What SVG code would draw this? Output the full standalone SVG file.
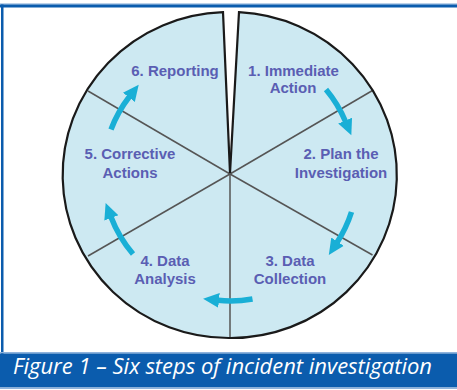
<svg xmlns="http://www.w3.org/2000/svg" width="457" height="390" viewBox="0 0 457 390">
<defs>
<style>
.lbl{font-family:"Liberation Sans",Arial,sans-serif;font-weight:bold;font-size:15px;fill:#5a5eb3;text-anchor:middle}
.div{stroke:#555;stroke-width:1.5;fill:none}
.rim{stroke:#1a1a1a;stroke-width:2.2;fill:none;stroke-linejoin:miter}
.arr{stroke:#19afd6;stroke-width:5.5;fill:none;marker-end:url(#ah)}
.cap{font-family:"Open Sans","Noto Sans",sans-serif;font-style:italic;font-size:21px;fill:#ffffff}
</style>
<marker id="ah" markerUnits="userSpaceOnUse" markerWidth="18" markerHeight="18" viewBox="0 0 18 18" refX="1" refY="9" orient="auto">
<path d="M0,1.5 L16,9 L0,16.5 Z" fill="#19afd6"/>
</marker>
</defs>
<rect x="0" y="0" width="457" height="390" fill="#ffffff"/>
<g id="frame">
<rect x="0" y="3.5" width="457" height="1" fill="#7aa6d6"/>
<rect x="0" y="4.5" width="457" height="3" fill="#0b5cad"/>
<rect x="1" y="4.5" width="2.5" height="350" fill="#0b5cad"/>
</g>
<g id="pie">
<path d="M230,173 L223,12.1 A166,163 0 0 0 230,338 Z" fill="#cde9f2"/>
<path d="M230,173 L239,12.2 A166,163 0 0 1 230,338 Z" fill="#cde9f2"/>
</g>
<g id="connectors">
<line class="div" x1="230" y1="174" x2="372.5" y2="90.5"/>
<line class="div" x1="230" y1="174" x2="372.5" y2="255"/>
<line class="div" x1="230" y1="174" x2="230" y2="338"/>
<line class="div" x1="230" y1="174" x2="88" y2="256"/>
<line class="div" x1="230" y1="174" x2="88" y2="91"/>
<path class="rim" d="M230,173 L223,12.1 A166,163 0 0 0 230,338"/>
<path class="rim" d="M230,173 L239,12.2 A166,163 0 0 1 230,338"/>
<path class="arr" d="M326,89.5 A127,127 0 0 1 345.5,121.5"/>
<path class="arr" d="M351.5,212 A127,127 0 0 1 337,242.5"/>
<path class="arr" d="M252.5,299 A127,127 0 0 1 218,300.3"/>
<path class="arr" d="M133,254 A127,127 0 0 1 111,217"/>
<path class="arr" d="M111,129.5 A127,127 0 0 1 129.5,96.5"/>
</g>
<g id="step1"><text class="lbl" x="293.5" y="76">1. Immediate</text><text class="lbl" x="293" y="93">Action</text></g>
<g id="step2"><text class="lbl" x="341" y="159">2. Plan the</text><text class="lbl" x="341" y="178">Investigation</text></g>
<g id="step3"><text class="lbl" x="290" y="266">3. Data</text><text class="lbl" x="290" y="284">Collection</text></g>
<g id="step4"><text class="lbl" x="165" y="266">4. Data</text><text class="lbl" x="165" y="284">Analysis</text></g>
<g id="step5"><text class="lbl" x="130" y="159">5. Corrective</text><text class="lbl" x="130" y="178">Actions</text></g>
<g id="step6"><text class="lbl" x="175" y="76">6. Reporting</text></g>
<g id="caption">
<rect x="0" y="352" width="457" height="1.5" fill="#8fb3dc"/>
<rect x="0" y="353.5" width="457" height="34" fill="#0b5cad"/>
<rect x="0" y="387.5" width="457" height="1.5" fill="#8fb3dc"/>
<text class="cap" x="13" y="374" textLength="419" lengthAdjust="spacingAndGlyphs">Figure 1 – Six steps of incident investigation</text>
</g>
</svg>
